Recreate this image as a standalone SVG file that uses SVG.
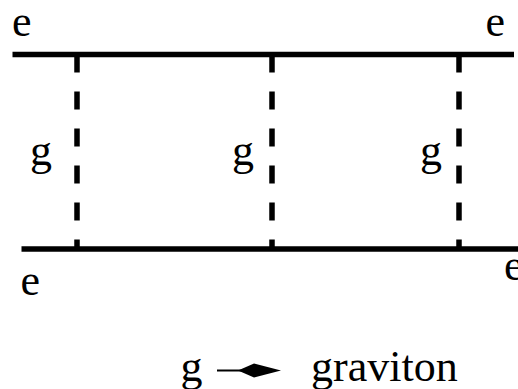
<svg xmlns="http://www.w3.org/2000/svg" width="518" height="389" viewBox="0 0 518 389">
  <style>
    .lbl { font-family: "Liberation Serif", "Times New Roman", serif; font-size: 44px; fill: #000; }
    .fermion { stroke: #000; stroke-width: 5.5; fill: none; }
    .boson { stroke: #000; stroke-width: 5.5; stroke-dasharray: 18 19; fill: none; }
  </style>
  <rect width="518" height="389" fill="#fff"/>
  <g id="electron-top">
    <line class="fermion" x1="12.5" y1="54.5" x2="514" y2="54.5"/>
    <text class="lbl" x="12" y="35.5">e</text>
    <text class="lbl" x="485.5" y="35.5">e</text>
  </g>
  <g id="electron-bottom">
    <line class="fermion" x1="21.5" y1="249" x2="518" y2="249"/>
    <text class="lbl" x="20.5" y="294.5">e</text>
    <text class="lbl" x="504" y="279.5">e</text>
  </g>
  <g id="connectors">
    <line class="boson" x1="77" y1="54.5" x2="77" y2="249"/>
    <line class="boson" x1="272" y1="54.5" x2="272" y2="249"/>
    <line class="boson" x1="459" y1="54.5" x2="459" y2="249"/>
  </g>
  <g id="graviton-labels">
    <text class="lbl" x="30" y="165">g</text>
    <text class="lbl" x="232" y="165">g</text>
    <text class="lbl" x="420" y="165">g</text>
  </g>
  <g id="legend">
    <text class="lbl" x="180.5" y="380.5">g</text>
    <line x1="217" y1="370.5" x2="242" y2="370.5" stroke="#000" stroke-width="2"/>
    <polygon points="238,370.5 254,363.5 281,370.5 254,377.5" fill="#000"/>
    <text class="lbl" x="311" y="380.5">graviton</text>
  </g>
</svg>
